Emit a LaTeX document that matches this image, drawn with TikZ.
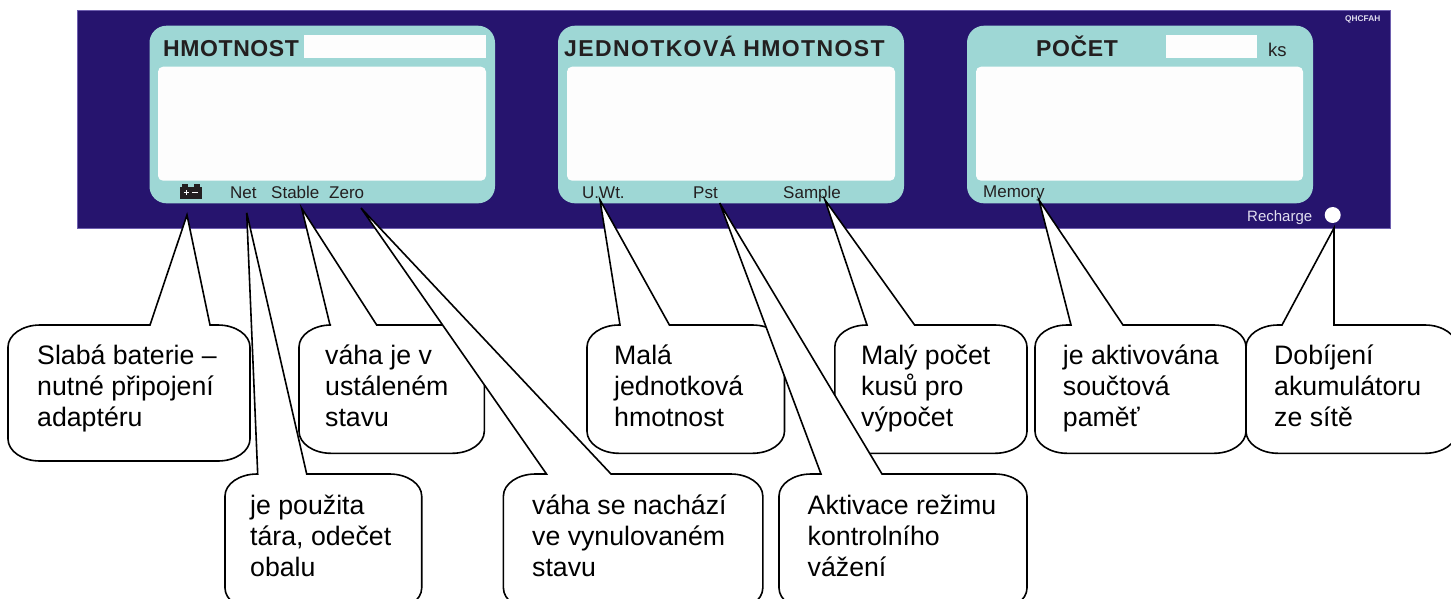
\documentclass[tikz,border=0pt]{standalone}
\usepackage{fontspec}
\setmainfont{Liberation Sans}
\definecolor{panelblue}{RGB}{38,20,110}
\definecolor{paneledge}{RGB}{110,95,175}
\definecolor{tealface}{RGB}{158,215,213}
\definecolor{lcdwhite}{RGB}{253,253,253}
\definecolor{inkdark}{RGB}{35,31,32}
\definecolor{softwhite}{RGB}{225,222,240}
\tikzset{
  lbl/.style={anchor=north west,inner sep=0pt,align=left,text=black,font=\fontsize{26.7}{31.3}\selectfont},
  headtxt/.style={anchor=base west,inner sep=0pt,text=inkdark,font=\fontsize{23}{26}\selectfont\bfseries},
  smalltxt/.style={anchor=base west,inner sep=0pt,text=inkdark,font=\fontsize{17}{20}\selectfont},
  bubble/.style={draw=black,fill=white,line width=1.6pt,line join=miter},
  faceplate/.style={fill=tealface,rounded corners=17pt},
  lcd/.style={fill=lcdwhite,rounded corners=5pt},
}
% x1 x2 y1 y2 base1 base2 tip
\newcommand\bubblepath[7]{%
  \pgfmathsetmacro\rxx{32}\pgfmathsetmacro\ryy{22}\pgfmathsetmacro\kk{0.45}%
  \pgfmathsetmacro\xa{#1+\rxx}\pgfmathsetmacro\xb{#2-\rxx}%
  \pgfmathsetmacro\ya{#3+\ryy}\pgfmathsetmacro\yb{#4-\ryy}%
  \pgfmathsetmacro\xc{#1+\rxx*\kk}\pgfmathsetmacro\xd{#2-\rxx*\kk}%
  \pgfmathsetmacro\yc{#3+\ryy*\kk}\pgfmathsetmacro\yd{#4-\ryy*\kk}%
  \draw[bubble] (#5,#3) -- (#7) -- (#6,#3) -- (\xb,#3)
    .. controls (\xd,#3) and (#2,\yc) .. (#2,\ya) -- (#2,\yb)
    .. controls (#2,\yd) and (\xd,#4) .. (\xb,#4) -- (\xa,#4)
    .. controls (\xc,#4) and (#1,\yd) .. (#1,\yb) -- (#1,\ya)
    .. controls (#1,\yc) and (\xc,#3) .. (\xa,#3) -- cycle;%
}
\begin{document}
\begin{tikzpicture}[x=1pt,y=-1pt]
\useasboundingbox (0,0) rectangle (1451,598);
\fill[white] (0,0) rectangle (1451,598);
\clip (0,0) rectangle (1451,598);
% panel
\filldraw[fill=panelblue,draw=paneledge,line width=0.8pt] (77,10) rectangle (1390,228);
\fill[faceplate] (149.5,25.7) rectangle (495,203.3);
\fill[faceplate] (558,25.7) rectangle (904,203.3);
\fill[faceplate] (967,25.7) rectangle (1313,203.3);
\fill[lcd] (158,66.7) rectangle (486,180.7);
\fill[lcd] (567,66.7) rectangle (895,180.7);
\fill[lcd] (976,66.7) rectangle (1303,180.7);
\fill[lcdwhite] (304,35) rectangle (486,57.7);
\fill[lcdwhite] (1166,35) rectangle (1257,57.7);
% panel texts
\node[headtxt] (hHm) at (163,56) {\addfontfeature{LetterSpace=2.6}HMOTNOST};
\node[headtxt] (hJh) at (564,56) {\addfontfeature{LetterSpace=6}JEDNOTKOVÁ\hspace{7pt}HMOTNOST};
\node[headtxt] (hPo) at (1036,56) {\addfontfeature{LetterSpace=2.6}POČET};
\node[smalltxt,font=\fontsize{18.5}{20}\selectfont] (tKs) at (1268,56) {ks};
\node[smalltxt] (tNet) at (230,198) {Net};
\node[smalltxt] (tStable) at (271,198) {Stable};
\node[smalltxt] (tZero) at (329,198) {Zero};
\node[smalltxt] (tUwt) at (582,198) {U.Wt.};
\node[smalltxt] (tPst) at (693,198) {Pst};
\node[smalltxt] (tSample) at (783,198) {Sample};
\node[smalltxt] (tMemory) at (983,197) {Memory};
\node[smalltxt,text=softwhite,font=\fontsize{15}{18}\selectfont] (tRecharge) at (1247,221.5) {Recharge};
\node[smalltxt,text=softwhite,font=\fontsize{8.3}{10}\selectfont\bfseries] (tModel) at (1345,21.7) {QHCFAH};
% LED
\fill[white] (1332.7,215) circle (8);
% battery icon
\fill[inkdark] (180,186.5) rectangle (201.7,199);
\fill[inkdark] (182,184) rectangle (187.5,187);
\fill[inkdark] (194,184) rectangle (199.5,187);
\draw[lcdwhite,line width=1pt] (183.5,192.7) -- (188.5,192.7) (186,190.2) -- (186,195.2) (192,192.7) -- (198,192.7);
% callout tips
\coordinate (tipBatt) at (187,215);
\coordinate (tipNet) at (246.7,212.7);
\coordinate (tipStable) at (301.7,208.3);
\coordinate (tipZero) at (361,208);
\coordinate (tipUwt) at (600,200);
\coordinate (tipPst) at (719.7,203);
\coordinate (tipSample) at (825,200);
\coordinate (tipMemory) at (1039,200);
\coordinate (tipRecharge) at (1334,228);
% callouts
\bubblepath{8}{250}{325}{461}{150}{210}{tipBatt}
\bubblepath{299}{484.3}{325}{453.3}{330}{376.7}{tipStable}
\bubblepath{587}{784.5}{325}{453.3}{620}{669.4}{tipUwt}
\bubblepath{834.8}{1027}{325}{453.3}{867}{914.6}{tipSample}
\bubblepath{1035}{1246}{325}{453.3}{1071}{1123}{tipMemory}
\bubblepath{1246}{1457}{325}{453.3}{1282}{1334}{tipRecharge}
\bubblepath{225}{421.7}{474}{610}{257.7}{306.7}{tipNet}
\bubblepath{503.4}{762.8}{474}{610}{546.5}{611}{tipZero}
\bubblepath{779}{1027}{474}{610}{821}{882}{tipPst}
% callout texts
\node[lbl] (lBatt) at (37,342.1) {\strut Slabá baterie –\\nutné připojení\\adaptéru};
\node[lbl] (lStable) at (325,342.1) {\strut váha je v\\ustáleném\\stavu};
\node[lbl] (lUwt) at (614,342.1) {\strut Malá\\jednotková\\hmotnost};
\node[lbl] (lSample) at (861,342.1) {\strut Malý počet\\kusů pro\\výpočet};
\node[lbl] (lMemory) at (1062.7,342.1) {\strut je aktivována\\součtová\\paměť};
\node[lbl] (lRecharge) at (1274,342.1) {\strut Dobíjení\\akumulátoru\\ze sítě};
\node[lbl] (lNet) at (250,492.1) {\strut je použita\\tára, odečet\\obalu};
\node[lbl] (lZero) at (532,492.1) {\strut váha se nachází\\ve vynulovaném\\stavu};
\node[lbl] (lPst) at (807.5,492.1) {\strut Aktivace režimu\\kontrolního\\vážení};
\end{tikzpicture}
\end{document}
